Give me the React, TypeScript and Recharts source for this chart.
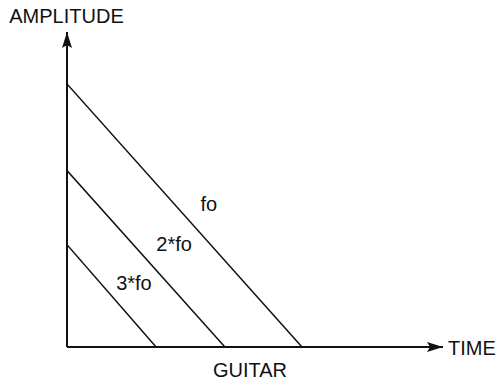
import {LineChart, Line, XAxis, YAxis, ReferenceDot, Label} from 'recharts';

// time runs 0..100, amplitude 0..100 (arbitrary units)
const fo = [{t: 0, a: 83.5}, {t: 62.5, a: 0}];
const fo2 = [{t: 0, a: 56}, {t: 42, a: 0}];
const fo3 = [{t: 0, a: 32.5}, {t: 23.7, a: 0}];

const harmonicNames = ['fo', '2*fo', '3*fo'];
const labelT = [37.7, 28.5, 17.8];
const labelA = [45.4, 32.7, 20.3];

const font = '"Liberation Sans", Arial, Helvetica, sans-serif';
const ink = '#111';

export default function App() {
	const series = [fo, fo2, fo3];
	return (
		<div style={{position: 'absolute', left: 0, top: 0, fontFamily: font}}>
			<LineChart
				width={498}
				height={383}
				margin={{top: 32, right: 55, left: 66, bottom: 35}}
			>
				<defs>
					<marker id="arrow" viewBox="0 0 16 10" refX="16" refY="5" markerWidth="16" markerHeight="10"
									markerUnits="userSpaceOnUse" orient="auto-start-reverse">
						<path d="M0,0 L16,5 L0,10 L3,5 z" fill={ink}/>
					</marker>
				</defs>
				<XAxis
					type="number"
					dataKey="t"
					domain={[0, 100]}
					allowDataOverflow
					height={1}
					tick={false}
					tickLine={false}
					axisLine={{stroke: ink, strokeWidth: 2, markerEnd: 'url(#arrow)'}}
				>
					<Label value="GUITAR" position="bottom" offset={15} dx={-5} fontSize={20} fill={ink} fontFamily={font}/>
					<Label value="TIME" position="right" offset={5} fontSize={20} fill={ink} fontFamily={font}/>
				</XAxis>
				<YAxis
					type="number"
					dataKey="a"
					domain={[0, 100]}
					allowDataOverflow
					width={1}
					tick={false}
					tickLine={false}
					axisLine={{stroke: ink, strokeWidth: 2, markerStart: 'url(#arrow)'}}
				>
					<Label value="AMPLITUDE" position="top" offset={9} fontSize={20} fill={ink} fontFamily={font}/>
				</YAxis>
				{series.map((d, i) => (
					<Line key={harmonicNames[i]} data={d} dataKey="a" stroke={ink} strokeWidth={1.5}
								dot={false} activeDot={false} isAnimationActive={false}/>
				))}
				{harmonicNames.map((n, i) => (
					<ReferenceDot key={n} x={labelT[i]} y={labelA[i]} r={0} fill="none" stroke="none"
												label={{value: n, position: 'center', fontSize: 20, fill: ink, fontFamily: font}}/>
				))}
			</LineChart>
		</div>
	);
}
